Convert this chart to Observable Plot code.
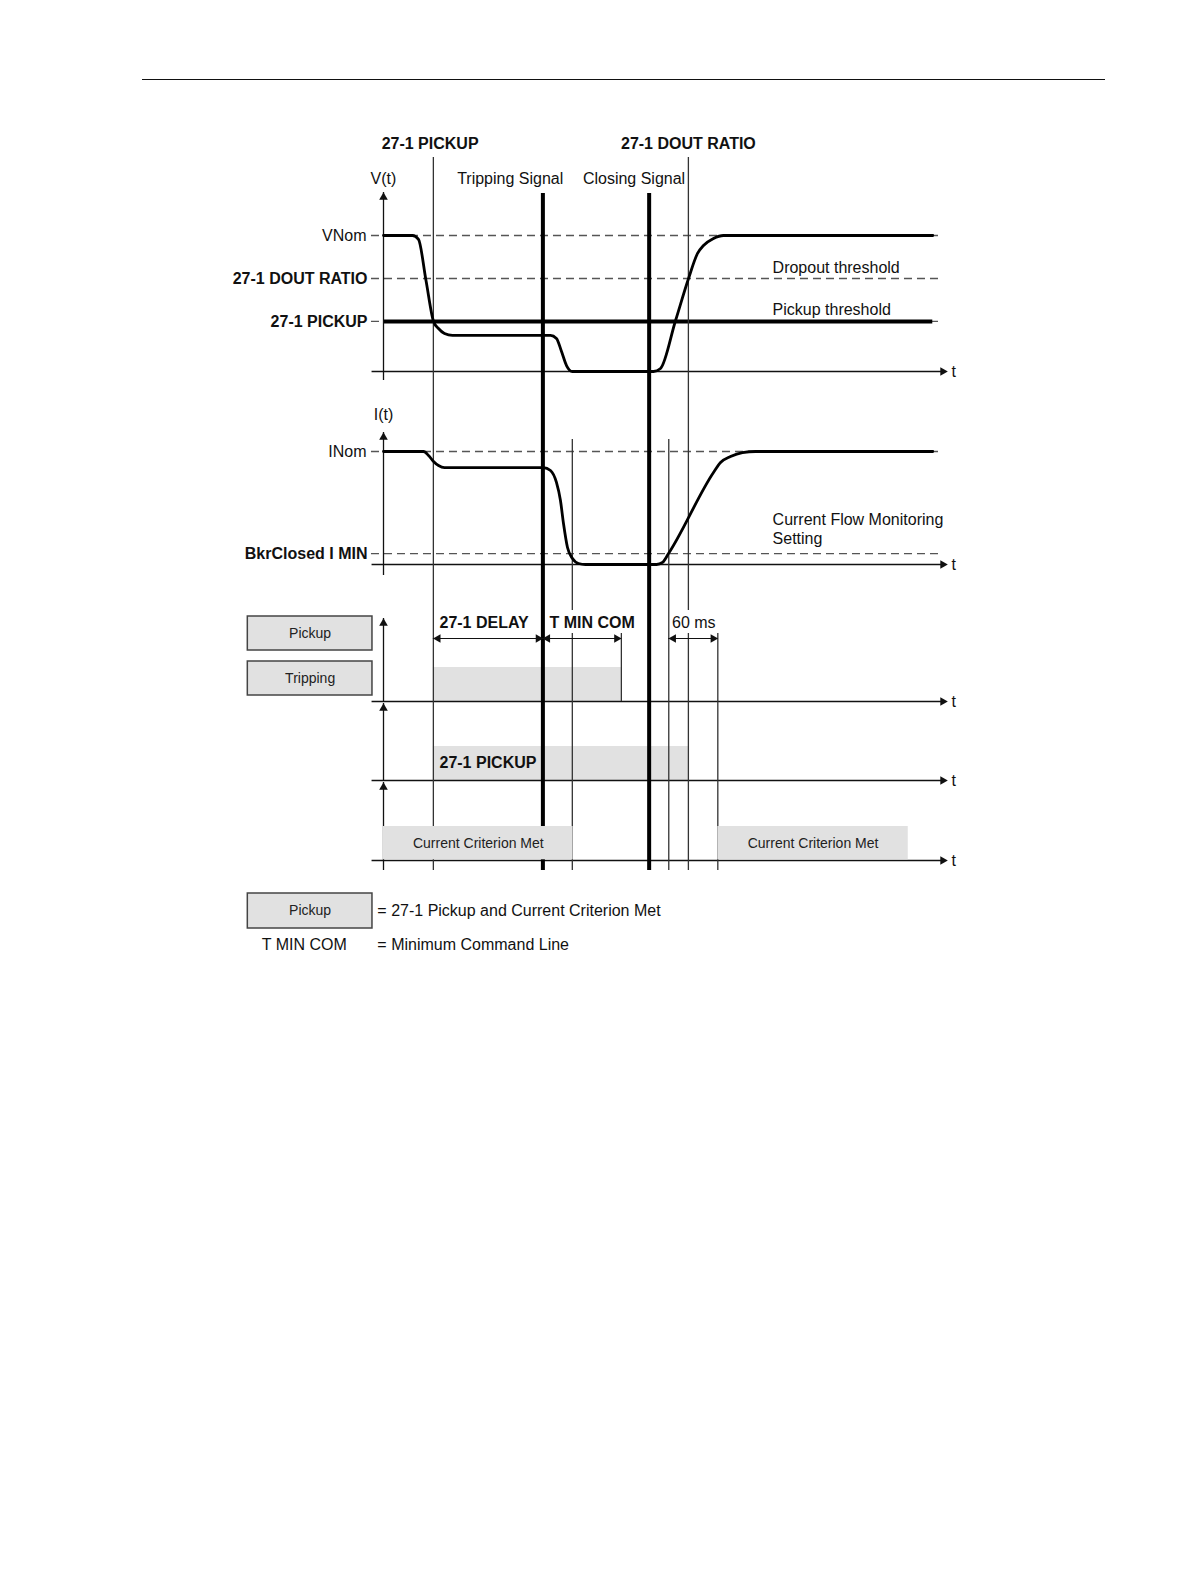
<!DOCTYPE html>
<html><head><meta charset="utf-8">
<script src="https://cdn.jsdelivr.net/npm/d3@7"></script>
<script src="https://cdn.jsdelivr.net/npm/@observablehq/plot@0.6"></script>
<style>
html,body{margin:0;padding:0;background:#fff;}
body{width:1191px;height:1587px;position:relative;overflow:hidden;font-family:"Liberation Sans",Arial,sans-serif;}
#header{position:absolute;left:142px;top:79px;width:963px;height:0;border-top:1.5px solid #111;z-index:2;}
#chart{position:absolute;left:0;top:0;z-index:1;}
</style></head><body>
<div id="chart"></div><div id="header"></div>
<script>
// ---------- DATA (time in ms, levels in per-unit) ----------
const vLevelNames = ["VNom", "27-1 DOUT RATIO", "27-1 PICKUP"];
const vLevelValues = [1.0, 0.684, 0.368];
const iLevelNames = ["INom", "BkrClosed I MIN"];
const iLevelValues = [1.0, 0.097];

const vTimes  = [0, 35.5, 42.8, 52, 61.2, 67.3, 74.6, 84.4, 204.3, 211.6, 217.8, 223.9, 231.2, 330.3, 338.9, 357.3, 373.2, 384.2, 391.5, 403.7, 416, 672];
const vValues = [1, 1, 0.971, 0.669, 0.368, 0.316, 0.279, 0.265, 0.265, 0.243, 0.147, 0.044, 0, 0, 0.022, 0.375, 0.684, 0.868, 0.926, 0.978, 1, 1];

const iTimes  = [0, 48.9, 55.1, 61.2, 67.3, 74.6, 195.7, 204.3, 211.6, 216.5, 220.2, 225.1, 231.2, 238.6, 247.1, 334, 341.3, 348.7, 403.7, 412.3, 424.5, 439.2, 455.1, 672];
const iValues = [1, 1, 0.965, 0.912, 0.876, 0.858, 0.858, 0.832, 0.726, 0.566, 0.363, 0.15, 0.053, 0.009, 0, 0, 0.018, 0.097, 0.814, 0.903, 0.956, 0.991, 1, 1];

const eventNames = ["27-1 PICKUP", "Tripping Signal", "I < MIN", "Closing Signal", "I > MIN", "27-1 DOUT RATIO", "60 ms end"];
const eventTimes = [61, 195, 231, 325, 349, 373, 409];
const eventThick = [false, true, false, true, false, false, false];

const trippingOn = [61, 291];
const pickupOn = [61, 373];
const criterionStart = [0, 409];
const criterionEnd = [232, 642];

const dimensionLabels = ["27-1 DELAY", "T MIN COM", "60 ms"];
const dimensionStart = [61, 195, 349];
const dimensionEnd = [195, 291, 409];

const boxLabels = ["Pickup", "Tripping", "Pickup"];
const legendTexts = ["= 27-1 Pickup and Current Criterion Met", "= Minimum Command Line"];

// ---------- LAYOUT (pixels on the y scale, ms on the x scale) ----------
const L = {
  vBase: 371, vSpan: 136, iBase: 564, iSpan: 113,
  tripBase: 701, pickBase: 780, critBase: 860, band: 34,
  ruleTops: [157, 193, 439, 193, 439, 157, 633], ruleBottom: 870,
  dimY: 638, dimTextY: 622, dimTextStart: [68.5, 203, 353],
  knockout: [[203, 306], [352, 405]], knockY: [610, 633],
  boxT1: -166, boxT2: -13.5, boxY: [[616, 650], [661, 695], [893, 928]],
  dashT1: -14.7, dashT2: 679, axisT1: -14, axisT2: 690
};
const FONT = "Liberation Sans, Arial, Helvetica, sans-serif";
const vy = v => L.vBase - v * L.vSpan;
const iy = v => L.iBase - v * L.iSpan;

const vCurve = vTimes.map((t, k) => ({t, y: vy(vValues[k])}));
const iCurve = iTimes.map((t, k) => ({t, y: iy(iValues[k])}));
const dashedYs = [...vLevelValues.map(vy), ...iLevelValues.map(iy)];
const events = eventNames.map((name, k) => ({name, t: eventTimes[k], thick: eventThick[k], top: L.ruleTops[k]}));

const stateBands = [
  {t1: trippingOn[0], t2: trippingOn[1], y1: L.tripBase - L.band, y2: L.tripBase},
  {t1: pickupOn[0], t2: pickupOn[1], y1: L.pickBase - L.band, y2: L.pickBase}
];
const critBands = criterionStart.map((s, k) => ({t1: s, t2: criterionEnd[k], y1: L.critBase - L.band, y2: L.critBase - 0.7}));
const boxes = boxLabels.map((label, k) => ({label, y1: L.boxY[k][0], y2: L.boxY[k][1]}));
const axisYs = [L.vBase, L.iBase, L.tripBase, L.pickBase, L.critBase];
const vAxes = [[192, 380], [432, 575], [618, L.tripBase], [703, L.pickBase], [782, L.ruleBottom]].map(([y1, y2]) => ({y1, y2}));
const dims = dimensionLabels.map((label, k) => ({label, t1: dimensionStart[k], t2: dimensionEnd[k]}));

const txt = (data, opts) => Plot.text(data, {fontFamily: FONT, fontSize: 16, fill: "#111", ...opts});
const HEAD = 4.67;

const chart = Plot.plot({
  width: 1191, height: 960, margin: 0,
  x: {domain: [0, 690], range: [383, 947], axis: null},
  y: {domain: [0, 960], range: [0, 960], axis: null},
  style: {fontFamily: FONT, background: "transparent"},
  marks: [
    Plot.rect(stateBands, {x1: "t1", x2: "t2", y1: "y1", y2: "y2", fill: "#e1e1e1"}),
    Plot.rect(boxes, {x1: L.boxT1, x2: L.boxT2, y1: "y1", y2: "y2", fill: "#e1e1e1", stroke: "#444", strokeWidth: 1.5}),
    Plot.ruleY(dashedYs, {y: d => d, x1: L.dashT1, x2: L.dashT2, stroke: "#555", strokeWidth: 1.3, strokeDasharray: "8,5"}),
    Plot.ruleY([vy(vLevelValues[2])], {y: d => d, x1: 0, x2: 672, stroke: "#000", strokeWidth: 4}),
    Plot.ruleY(axisYs, {y: d => d, x1: L.axisT1, x2: L.axisT2 - 4, stroke: "#111", strokeWidth: 1.3}),
    Plot.dot(axisYs, {x: L.axisT2, y: d => d, symbol: "triangle", r: 3.2, rotate: 90, dx: -HEAD, fill: "#111", stroke: null}),
    Plot.ruleX(vAxes, {x: 0, y1: "y1", y2: "y2", stroke: "#111", strokeWidth: 1.3}),
    Plot.dot(vAxes, {x: 0, y: "y1", symbol: "triangle", r: 3.2, rotate: 0, dy: HEAD, fill: "#111", stroke: null}),
    Plot.ruleX(events.filter(e => !e.thick), {x: "t", y1: "top", y2: L.ruleBottom, stroke: "#333", strokeWidth: 1.3}),
    Plot.ruleX([trippingOn[1]], {x: d => d, y1: 632, y2: L.tripBase, stroke: "#333", strokeWidth: 1.3}),
    Plot.line(vCurve, {x: "t", y: "y", curve: "monotone-x", stroke: "#000", strokeWidth: 2.8}),
    Plot.line(iCurve, {x: "t", y: "y", curve: "monotone-x", stroke: "#000", strokeWidth: 2.8}),
    Plot.ruleX(events.filter(e => e.thick), {x: "t", y1: "top", y2: L.ruleBottom, stroke: "#000", strokeWidth: 4}),
    // current criterion bands cover the time rules
    Plot.rect(critBands, {x1: "t1", x2: "t2", y1: "y1", y2: "y2", fill: "#e1e1e1"}),
    // white knock-outs behind dimension labels
    Plot.rect(L.knockout, {x1: d => d[0], x2: d => d[1], y1: L.knockY[0], y2: L.knockY[1], fill: "white"}),
    // dimension arrows
    Plot.ruleY(dims, {y: L.dimY, x1: "t1", x2: "t2", stroke: "#111", strokeWidth: 1.2}),
    Plot.dot(dims, {x: "t1", y: L.dimY, symbol: "triangle", r: 3.2, rotate: -90, dx: HEAD, fill: "#111", stroke: null}),
    Plot.dot(dims, {x: "t2", y: L.dimY, symbol: "triangle", r: 3.2, rotate: 90, dx: -HEAD, fill: "#111", stroke: null}),
    // texts - bold
    Plot.text([eventNames[0], eventNames[5]], {x: (d, k) => [57, eventTimes[5]][k], y: 143, text: d => d, fontFamily: FONT, fontSize: 16, fontWeight: "bold", fill: "#111"}),
    txt([vLevelNames[1], vLevelNames[2], iLevelNames[1]], {x: 0, y: (d, k) => [vy(vLevelValues[1]), vy(vLevelValues[2]), iy(iLevelValues[1])][k], text: d => d, textAnchor: "end", dx: -16, fontWeight: "bold"}),
    txt([dimensionLabels[0], dimensionLabels[1]], {x: (d, k) => L.dimTextStart[k], y: L.dimTextY, text: d => d, textAnchor: "start", fontWeight: "bold"}),
    txt(["27-1 PICKUP"], {x: 68.5, y: 762, text: d => d, textAnchor: "start", fontWeight: "bold"}),
    // texts - regular
    txt([vLevelNames[0], iLevelNames[0]], {x: 0, y: (d, k) => [vy(vLevelValues[0]), iy(iLevelValues[0])][k], text: d => d, textAnchor: "end", dx: -17}),
    txt(["V(t)", "I(t)"], {x: 0, y: (d, k) => [178, 414][k], text: d => d}),
    txt([eventNames[1], eventNames[3]], {x: (d, k) => [155, 306.5][k], y: 178, text: d => d}),
    txt(["Dropout threshold", "Pickup threshold", "Current Flow Monitoring", "Setting"], {x: 476, y: (d, k) => [267, 309, 519, 538][k], text: d => d, textAnchor: "start"}),
    txt(axisYs.map(() => "t"), {x: 695, y: (d, k) => axisYs[k], text: d => d, textAnchor: "start"}),
    txt([dimensionLabels[2]], {x: L.dimTextStart[2], y: L.dimTextY, text: d => d, textAnchor: "start"}),
    txt(legendTexts, {x: -7.5, y: (d, k) => [910, 944][k], text: d => d, textAnchor: "start"}),
    txt(["T MIN COM"], {x: -149, y: 944, text: d => d, textAnchor: "start"}),
    // small texts
    txt(boxes, {x: (L.boxT1 + L.boxT2) / 2, y: d => (d.y1 + d.y2) / 2, text: "label", fontSize: 14, fill: "#222"}),
    txt(critBands, {x: d => (d.t1 + d.t2) / 2, y: L.critBase - L.band / 2, text: () => "Current Criterion Met", fontSize: 14, fill: "#222"})
  ]
});
document.getElementById("chart").appendChild(chart);
</script></body></html>
